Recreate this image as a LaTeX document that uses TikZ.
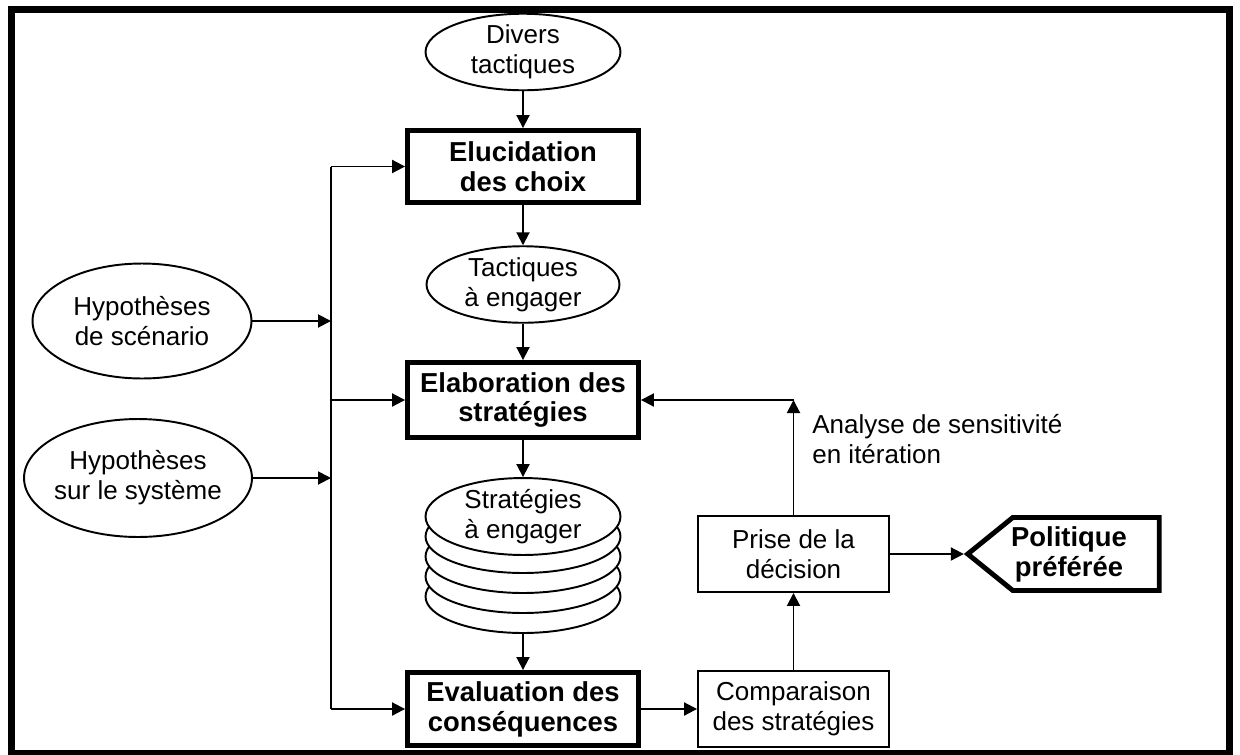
\documentclass[tikz,border=0pt]{standalone}
\usepackage{fontspec}
\setmainfont{Liberation Sans}
\usepackage{tikz}
\usetikzlibrary{calc,shapes.geometric,shapes.symbols,arrows.meta}

\begin{document}
\begin{tikzpicture}[x=0.02cm,y=-0.02cm]
	\tikzstyle{every node}=[font=\fontsize{14.8}{17}\selectfont, align=center, inner sep=0pt]
	\tikzstyle{heavy}=[font=\fontsize{15.6}{17}\selectfont\bfseries]
	\tikzstyle{oval}=[draw, ellipse, line width=1.1pt, fill=white, inner xsep=-0.5cm]
	\tikzstyle{bigbox}=[draw, rectangle, line width=2.8pt, minimum width=4.62cm, heavy]
	\tikzstyle{smallbox}=[draw, rectangle, line width=1.1pt, minimum width=3.82cm, minimum height=1.52cm]
	\tikzstyle{arr}=[line width=1.1pt, -{Triangle[length=0.26cm,width=0.26cm]}]
	\useasboundingbox (0,0) rectangle (1240,754);
	\draw[line width=0.14cm] (11.5,9) rectangle (1229.5,753);
	% main column
	\node[oval, minimum width=3.9cm, minimum height=1.46cm] (div) at (523,52) {Divers\\tactiques};
	\node[bigbox, minimum height=1.44cm] (eluc) at (523,166.5) {Elucidation\\des choix};
	\node[oval, minimum width=3.86cm, minimum height=1.46cm] (tac) at (523,284.5) {Tactiques\\à engager};
	\node[bigbox, minimum height=1.5cm] (elab) at (523,400) {Elaboration des\\stratégies};
	\foreach \k in {4,3,2,1}
		\node[oval, minimum width=3.9cm, minimum height=1.46cm] (lay\k) at (523,516.5+20*\k) {};
	\node[oval, minimum width=3.9cm, minimum height=1.46cm] (strat) at (523,516.5) {Stratégies\\à engager};
	\node[bigbox, minimum height=1.46cm] (eval) at (523,709) {Evaluation des\\conséquences};
	% hypotheses
	\node[oval, minimum width=4.38cm, minimum height=2.3cm] (hsc) at (142,321) {Hypothèses\\de scénario};
	\node[oval, minimum width=4.56cm, minimum height=2.36cm] (hsy) at (138,478) {Hypothèses\\sur le système};
	% decision side
	\node[smallbox] (pri) at (793.5,554) {Prise de la\\décision};
	\node[smallbox] (com) at (793.5,709) {Comparaison\\des stratégies};
	\node[signal, signal to=west, signal from=nowhere, signal pointer angle=78, draw, line width=2.8pt, minimum width=3.83cm, minimum height=1.46cm] (pol) at (1086,554) {};
	\node[heavy] (poltxt) at (1069,554) {Politique\\préférée};
	\node[anchor=west, align=left] (ana) at (812,439) {Analyse de sensitivité\\en itération};
	% connectors
	\coordinate (bt) at (331,166.5);
	\coordinate (bb) at (331,709);
	\draw[line width=1.1pt] (bt)--(bb);
	\draw[arr] (bt)--(eluc.west);
	\draw[arr] (elab.west -| bt)--(elab.west);
	\draw[arr] (bb)--(eval.west);
	\draw[arr] (hsc.east)--(hsc.east -| bt);
	\draw[arr] (hsy.east)--(hsy.east -| bt);
	\draw[arr] (div)--(eluc);
	\draw[arr] (eluc)--(tac);
	\draw[arr] (tac)--(elab);
	\draw[arr] (elab)--(strat);
	\draw[arr] (lay4)--(eval);
	\draw[arr] (eval)--(com);
	\draw[arr] (com)--(pri);
	\coordinate (fb) at (pri.north |- elab.east);
	\draw[arr] (pri)--(fb);
	\draw[arr] (fb)--(elab.east);
	\draw[arr] (pri)--(pol);
\end{tikzpicture}
\end{document}
